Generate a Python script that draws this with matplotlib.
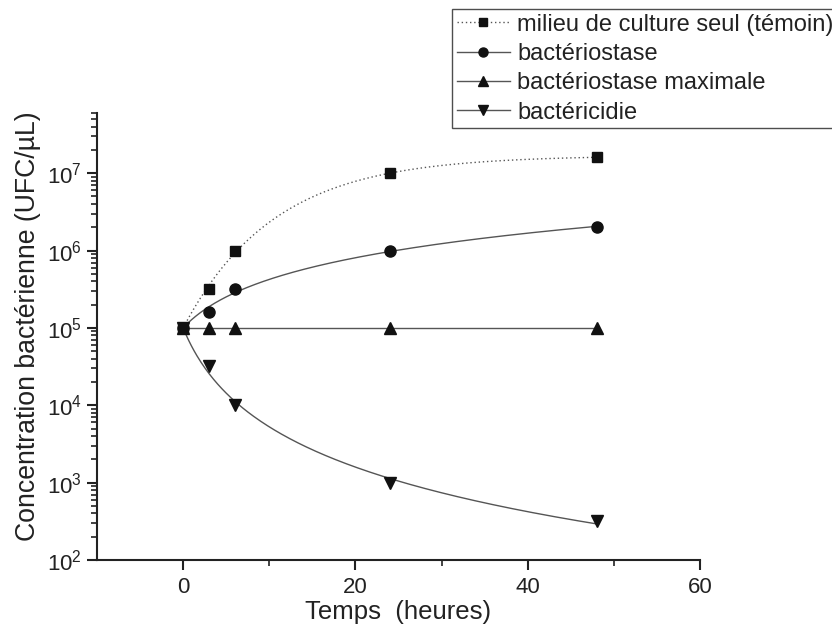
import numpy as np
import matplotlib
matplotlib.use("Agg")
import matplotlib.pyplot as plt
from matplotlib.ticker import LogLocator, FixedLocator, NullFormatter, LogFormatterMathtext
from matplotlib.lines import Line2D

plt.rcParams['font.family'] = ['Liberation Sans', 'DejaVu Sans']
plt.rcParams['mathtext.fontset'] = 'custom'
plt.rcParams['mathtext.rm'] = 'Liberation Sans'
plt.rcParams['mathtext.it'] = 'Liberation Sans'
plt.rcParams['mathtext.bf'] = 'Liberation Sans'

# data
hours = [0, 3, 6, 24, 48]
temoin = [1e5, 3.2e5, 1e6, 1e7, 1.6e7]
bacteriostase = [1e5, 1.6e5, 3.2e5, 1e6, 2e6]
bacteriostase_max = [1e5, 1e5, 1e5, 1e5, 1e5]
bactericidie = [1e5, 3.2e4, 1e4, 1e3, 3.2e2]
labels = ["milieu de culture seul (témoin)", "bactériostase",
          "bactériostase maximale", "bactéricidie"]
x_ticks = [0, 20, 40, 60]


def fit_curve(t, y, tt, model):
    """Least-squares fit of log10(y) = y0 + a*g(t; p), grid search over p."""
    t = np.asarray(t, float)
    ly = np.log10(y)
    y0 = ly[0]
    d = ly - y0
    if model == 'exp':
        g = lambda x, p: 1 - np.exp(-p * x)
        grid = np.linspace(0.005, 1.0, 3000)
    else:
        g = lambda x, p: np.log1p(x / p)
        grid = np.linspace(0.3, 60, 3000)
    best = None
    for p in grid:
        gv = g(t, p)
        a = (gv * d).sum() / (gv * gv).sum()
        err = ((a * gv - d) ** 2).sum()
        if best is None or err < best[0]:
            best = (err, p, a)
    _, p, a = best
    return 10 ** (y0 + a * g(tt, p))


fig = plt.figure(figsize=(8.32, 6.26), dpi=100)
ax = fig.add_axes([97/832, 1-560/626, (700-97)/832, (560-113)/626])

tt = np.linspace(0, 48, 300)
col = '#111111'
lc = '#555555'

ax.plot(tt, fit_curve(hours, temoin, tt, 'exp'), color=lc, lw=1.0, ls=(0, (1, 2)))
ax.plot(tt, fit_curve(hours, bacteriostase, tt, 'log'), color=lc, lw=1.0)
ax.plot(tt, fit_curve(hours, bacteriostase_max, tt, 'log'), color=lc, lw=1.0)
ax.plot(tt, fit_curve(hours, bactericidie, tt, 'log'), color=lc, lw=1.0)

ax.plot(hours, temoin, ls='none', marker='s', ms=7.3, color=col)
ax.plot(hours, bacteriostase, ls='none', marker='o', ms=8.0, color=col)
ax.plot(hours, bacteriostase_max, ls='none', marker='^', ms=9.2, color=col)
ax.plot(hours, bactericidie, ls='none', marker='v', ms=9.2, color=col)

ax.set_yscale('log')
ax.set_xlim(-10, 60)
ax.set_ylim(1e2, 6e7)
for s in ['top', 'right']:
    ax.spines[s].set_visible(False)
for s in ['left', 'bottom']:
    ax.spines[s].set_linewidth(1.5)
    ax.spines[s].set_color('#222222')

ax.xaxis.set_major_locator(FixedLocator(x_ticks))
ax.xaxis.set_minor_locator(FixedLocator([10, 30, 50]))
ax.yaxis.set_major_locator(LogLocator(base=10, numticks=20))
ax.yaxis.set_minor_locator(LogLocator(base=10, subs=np.arange(2, 10), numticks=20))
ax.yaxis.set_major_formatter(LogFormatterMathtext())
ax.yaxis.set_minor_formatter(NullFormatter())
ax.tick_params(axis='both', which='major', direction='out', length=7, width=1.5,
               labelsize=16, color='#222222', labelcolor='#222222')
ax.tick_params(axis='both', which='minor', direction='out', length=4, width=1.2,
               color='#222222')
ax.tick_params(axis='x', pad=5)
ax.tick_params(axis='y', pad=4)

ax.set_xlabel("Temps  (heures)", fontsize=18.5, labelpad=2, color='#222222')
ax.set_ylabel("Concentration bactérienne (UFC/µL)", fontsize=19.2, labelpad=4,
              color='#222222')
ax.yaxis.label.set_y(0.522)

handles = [
    Line2D([], [], color=lc, lw=1.0, ls=(0, (1, 2)), marker='s', ms=6, mfc=col, mec=col),
    Line2D([], [], color=lc, lw=1.0, marker='o', ms=6.5, mfc=col, mec=col),
    Line2D([], [], color=lc, lw=1.0, marker='^', ms=7.5, mfc=col, mec=col),
    Line2D([], [], color=lc, lw=1.0, marker='v', ms=7.5, mfc=col, mec=col),
]
leg = fig.legend(handles, labels, loc='upper left', bbox_to_anchor=(452/832, 1-9/626),
                 fontsize=17, frameon=True, fancybox=False, edgecolor='#222222',
                 handlelength=2.25, handletextpad=0.32, borderpad=0.2,
                 labelspacing=0.31, borderaxespad=0)
leg.get_frame().set_linewidth(1.0)
for txt in leg.get_texts():
    txt.set_color('#222222')

fig.savefig("out.png", dpi=100)
